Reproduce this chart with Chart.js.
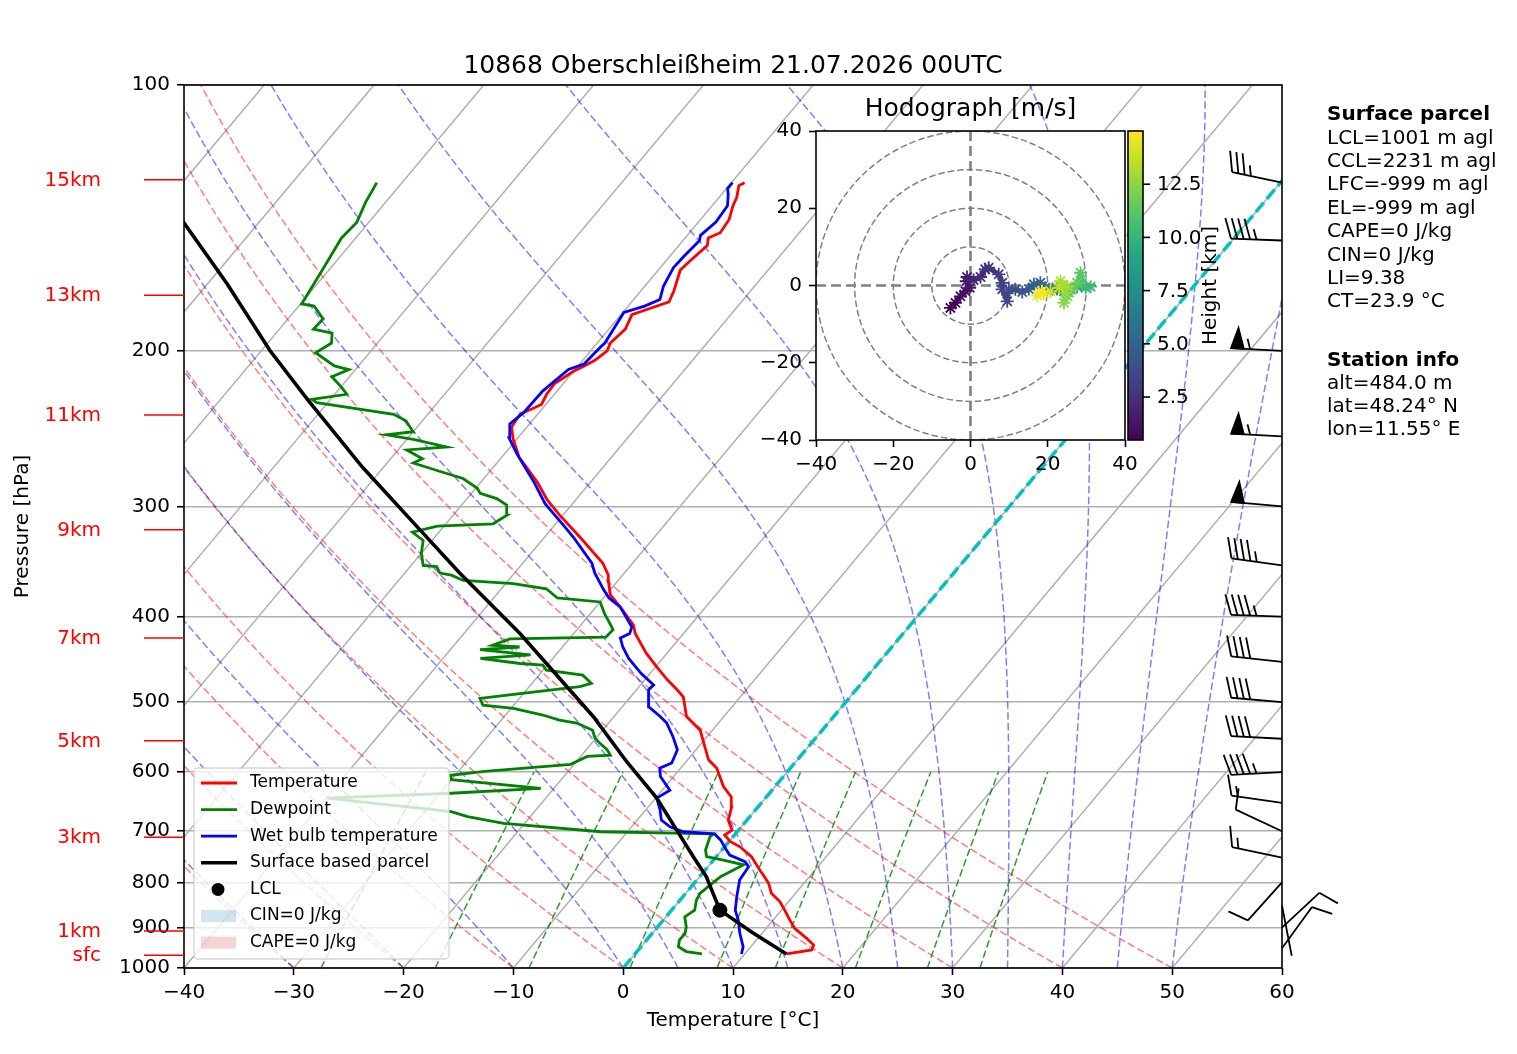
<!DOCTYPE html>
<html>
<head>
<meta charset="utf-8">
<title>10868 Oberschleißheim 21.07.2026 00UTC</title>
<script src="https://cdn.jsdelivr.net/npm/chart.js@4.4.1/dist/chart.umd.min.js"></script>
<style>
  html, body { margin: 0; padding: 0; background: #fff; }
  #wrap { position: relative; width: 1517px; height: 1054px; }
  #wrap canvas { position: absolute; left: 0; top: 0; }
</style>
</head>
<body>
<div id="wrap">
  <canvas id="skewt" width="1517" height="1054"></canvas>
  <canvas id="hodo" width="1517" height="1054"></canvas>
</div>
<script>
// sounding values (pressure hPa, temperature degC)
const tempPres = [964, 954, 942, 925, 902, 882, 860, 841, 823, 802, 785, 775, 748, 729, 719, 707, 698, 680, 657, 640, 623, 594, 581, 562, 538, 519, 493, 484, 472, 456, 440, 418, 409, 390, 378, 365, 359, 348, 325, 307, 295, 282, 264, 252, 244, 236, 230, 224, 218, 211, 208, 205, 200, 196, 189, 182, 179, 176, 171, 162, 158, 152, 149, 147, 142, 137, 134, 130, 129];
const tempVals = [13.8, 15.8, 15.6, 14.4, 12.6, 11.5, 10.3, 9.2, 7.8, 6.8, 5.7, 5.0, 3.2, 1.4, 0.1, -0.9, -0.6, -1.7, -2.4, -3.2, -4.7, -6.7, -8.1, -9.4, -11.1, -13.4, -15.2, -16.3, -17.9, -19.9, -21.9, -24.4, -25.2, -27.8, -29.6, -30.8, -31.3, -32.7, -36.8, -40.3, -42.6, -44.8, -48.4, -50.3, -51.4, -51.6, -50.4, -50.7, -50.8, -50.0, -49.4, -48.9, -48.5, -48.8, -48.5, -49.0, -47.8, -46.6, -47.0, -48.0, -47.8, -47.4, -47.9, -47.2, -47.4, -48.1, -48.4, -49.1, -48.8];

const dewPres = [964, 958, 946, 930, 914, 898, 875, 860, 838, 823, 805, 788, 778, 764, 755, 748, 735, 710, 705, 701, 686, 674, 665, 642, 634, 626, 612, 605, 599, 588, 576, 574, 566, 557, 549, 538, 528, 524, 517, 508, 504, 495, 489, 480, 476, 466, 460, 454, 452, 446, 442, 440, 436, 433, 431, 424, 422, 414, 407, 397, 385, 381, 372, 367, 364, 359, 357, 351, 350, 339, 328, 321, 316, 314, 307, 299, 294, 290, 286, 279, 274, 268, 265, 259, 257, 252, 249, 247, 240, 236, 229, 227, 224, 220, 214, 210, 208, 201, 196, 191, 189, 184, 178, 177, 162, 149, 143, 136, 129];
const dewVals = [6.1, 4.5, 3.4, 3.0, 3.0, 2.6, 1.7, 2.1, 1.5, 1.3, 1.6, 1.9, 2.4, 3.1, 0.9, -0.9, -1.5, -2.1, -2.0, -12.4, -21.9, -25.7, -27.6, -39.9, -29.0, -21.2, -30.0, -30.4, -27.6, -20.3, -19.4, -17.4, -18.1, -19.2, -20.1, -20.9, -22.9, -24.7, -26.6, -29.8, -32.8, -33.6, -30.3, -25.4, -24.6, -26.0, -29.7, -30.4, -32.6, -36.6, -32.3, -34.0, -37.3, -33.9, -36.5, -35.4, -26.8, -26.7, -27.5, -28.7, -30.0, -34.2, -35.9, -39.3, -44.1, -45.6, -46.8, -47.6, -48.9, -50.0, -50.8, -52.4, -50.6, -45.7, -45.1, -45.9, -47.3, -49.2, -49.9, -51.9, -54.5, -57.6, -57.1, -59.2, -55.8, -59.4, -62.2, -60.0, -61.5, -63.1, -71.0, -71.7, -68.9, -69.9, -71.6, -70.6, -72.2, -74.9, -74.2, -74.9, -76.9, -76.8, -78.6, -79.9, -80.6, -81.3, -81.1, -81.8, -82.3];

const wetPres = [964, 946, 914, 882, 860, 830, 795, 768, 758, 745, 735, 716, 705, 701, 692, 680, 662, 642, 629, 607, 594, 586, 566, 547, 528, 519, 506, 484, 478, 464, 446, 433, 423, 418, 411, 390, 381, 373, 357, 348, 325, 314, 298, 282, 262, 251, 242, 235, 222, 210, 207, 198, 196, 181, 178, 175, 169, 161, 156, 150, 148, 143, 137, 133, 131, 129];
const wetVals = [9.7, 9.3, 8.0, 6.8, 5.8, 4.9, 3.9, 3.7, 3.0, 1.1, 0.4, -0.9, -1.9, -4.9, -6.5, -7.8, -8.7, -9.9, -9.3, -11.2, -11.9, -11.2, -11.7, -13.1, -14.7, -15.8, -17.6, -18.9, -18.8, -20.8, -23.1, -24.5, -25.4, -24.9, -25.2, -27.8, -29.5, -30.6, -32.7, -33.7, -37.4, -39.4, -42.5, -45.1, -48.8, -50.8, -51.8, -51.4, -51.3, -50.6, -49.6, -49.4, -49.3, -49.9, -48.5, -47.6, -48.3, -48.8, -48.7, -48.5, -48.8, -48.4, -48.6, -49.4, -49.9, -49.9];

const parcelPres = [964, 912, 860, 788, 748, 704, 642, 584, 519, 418, 357, 319, 271, 227, 200, 168, 143, 129];
const parcelVals = [13.8, 9.1, 4.4, 0.6, -2.1, -5.2, -9.9, -15.4, -21.9, -34.9, -45.0, -51.9, -61.9, -72.1, -79.2, -88.2, -96.9, -102.0];
const lclPres = 860;
const lclTemp = 4.4;

// wind barbs (knots, direction the wind blows from)
const barbPres = [129, 150, 200, 250, 300, 350, 400, 450, 500, 550, 600, 650, 700, 750, 800, 850, 900, 950];
const barbSpeed = [35, 45, 55, 55, 50, 45, 45, 40, 40, 40, 45, 15, 10, 15, 10, 2, 10, 10];
const barbDir = [282, 272, 273, 273, 275, 278, 272, 276, 275, 273, 267, 278, 295, 282, 222, 169, 47, 36];

// hodograph (m/s) coloured by height (km)
const hodoU = [-5.2, -3.9, -2.6, -1.3, -0.2, -1.1, -0.9, 0.8, 2.6, 3.8, 4.7, 7.3, 8.2, 8.2, 9.5, 9.9, 11.6, 13.4, 15.1, 16.4, 18.1, 19.4, 21.2, 22.4, 24.2, 25.9, 27.6, 29.8, 31.1, 28.9, 28.5, 27.6, 26.3, 25.1, 24.2, 24.6, 25.1, 23.3, 22.9, 20.7, 19.0, 17.3, 18.5];
const hodoV = [-5.8, -4.5, -2.8, -1.5, -0.6, 1.1, 2.2, 1.4, 2.2, 4.2, 4.6, 2.9, 0.7, -1.0, -4.1, -1.0, -1.0, -1.7, -0.9, 0.3, 0.7, -0.6, -0.9, -0.9, -1.5, -1.0, -0.3, -0.6, -0.3, 0.7, 3.3, 0.7, -1.0, -2.8, -4.5, -1.9, -0.2, 1.1, -0.6, -1.5, -2.1, -2.6, -1.5];
const hodoH = [0.5, 0.7, 0.9, 1.1, 1.3, 1.5, 1.7, 1.9, 2.2, 2.5, 2.7, 3.0, 3.2, 3.4, 3.6, 3.8, 4.0, 4.3, 4.6, 4.9, 5.2, 5.6, 6.2, 7.0, 7.8, 8.5, 9.2, 10.0, 10.4, 10.8, 11.2, 11.5, 11.8, 12.1, 12.4, 12.7, 12.9, 13.2, 13.5, 13.8, 14.2, 14.6, 15.0];
const heightMin = 0.48;
const heightMax = 15.0;
const heightTicks = [2.5, 5.0, 7.5, 10.0, 12.5];
const hodoTicks = [-40, -20, 0, 20, 40];
const hodoRings = [10, 20, 30, 40];

// axes
const xTicks = [-40, -30, -20, -10, 0, 10, 20, 30, 40, 50, 60];
const yTicks = [100, 200, 300, 400, 500, 600, 700, 800, 900, 1000];
const kmLabels = ['15km', '13km', '11km', '9km', '7km', '5km', '3km', '1km', 'sfc'];
const kmPres = [128, 173, 236.5, 319, 423, 553, 711, 908, 967];

// background lines of the diagram
const isothermT = [-110, -100, -90, -80, -70, -60, -50, -40, -30, -20, -10, 0, 10, 20, 30, 40, 50, 60];
const dryT0 = [-40, -30, -20, -10, 0, 10, 20, 30, 40, 50];
const moistT0 = [-40, -30, -20, -10, 0, 5, 10, 15, 20, 25, 30, 35, 40, 45, 50];
const mixRatios = [0.4, 1, 2, 4, 7, 10, 16, 24, 32];   // g/kg

const parcelInfo = ['LCL=1001 m agl', 'CCL=2231 m agl', 'LFC=-999 m agl', 'EL=-999 m agl', 'CAPE=0 J/kg', 'CIN=0 J/kg', 'LI=9.38', 'CT=23.9 °C'];
const stationInfo = ['alt=484.0 m', 'lat=48.24° N', 'lon=11.55° E'];
const legendLabels = ['Temperature', 'Dewpoint', 'Wet bulb temperature', 'Surface based parcel', 'LCL', 'CIN=0 J/kg', 'CAPE=0 J/kg'];

const FONT = "'DejaVu Sans', 'Liberation Sans', sans-serif";
const SKEW = 67.3;   // degC of horizontal shift per decade of pressure

function skewX(t, p) {
    return t + SKEW * Math.log10(1000 / p);
}
function toXY(pres, vals) {
    return pres.map((p, i) => ({ x: skewX(vals[i], p), y: p }));
}
function fmtTick(v) {
    return v < 0 ? '\u2212' + Math.abs(v) : String(v);
}

// thermodynamics for the dry / moist adiabats and mixing lines
const Rd = 287.04749, Cpd = 1004.6662, Lv = 2.50084e6, EPS = 0.6219569;
function satMix(p, tK) {
    const es = 6.112 * Math.exp(17.67 * (tK - 273.15) / (tK - 29.65));
    return EPS * es / (p - es);
}
function moistSlope(p, t) {
    const rs = satMix(p, t);
    return (Rd * t + Lv * rs) / (Cpd + Lv * Lv * rs * EPS / (Rd * t * t)) / p;
}
function moistAdiabat(t0) {
    let t = t0 + 273.15, p = 1000;
    const pts = [{ x: skewX(t0, p), y: p }];
    const h = -5;
    while (p > 100.1) {
        const k1 = moistSlope(p, t);
        const k2 = moistSlope(p + h / 2, t + h / 2 * k1);
        const k3 = moistSlope(p + h / 2, t + h / 2 * k2);
        const k4 = moistSlope(p + h, t + h * k3);
        t += h / 6 * (k1 + 2 * k2 + 2 * k3 + k4);
        p += h;
        pts.push({ x: skewX(t - 273.15, p), y: p });
    }
    return pts;
}
function dryAdiabat(t0) {
    const pts = [];
    for (let p = 1000; p >= 100; p -= 10) {
        const t = (t0 + 273.15) * Math.pow(p / 1000, Rd / Cpd) - 273.15;
        pts.push({ x: skewX(t, p), y: p });
    }
    return pts;
}
function mixingLine(w) {
    const pts = [];
    for (let p = 1000; p >= 600; p -= 10) {
        const e = p * (w / 1000) / (EPS + w / 1000);
        const l = Math.log(e / 6.112);
        const td = 243.5 * l / (17.67 - l);
        pts.push({ x: skewX(td, p), y: p });
    }
    return pts;
}

const viridisStops = [[68, 1, 84], [72, 36, 117], [65, 68, 135], [53, 95, 141], [42, 120, 142], [33, 145, 140], [34, 168, 132], [68, 191, 112], [122, 209, 81], [189, 223, 38], [253, 231, 37]];
function viridis(f) {
    f = Math.min(1, Math.max(0, f));
    const s = f * 10, i = Math.min(9, Math.floor(s)), r = s - i;
    const a = viridisStops[i], b = viridisStops[i + 1];
    return 'rgb(' + a.map((c, k) => Math.round(c + (b[k] - c) * r)).join(',') + ')';
}
function heightColor(h) {
    return viridis((h - heightMin) / (heightMax - heightMin));
}

function line(data, color, width, dash) {
    return { data: data, borderColor: color, borderWidth: width, borderDash: dash || [], showLine: true, pointRadius: 0, fill: false, tension: 0 };
}

// datasets: index 0 is drawn on top
let datasets = [];
datasets.push({ data: [{ x: skewX(lclTemp, lclPres), y: lclPres }], showLine: false, pointRadius: 7, pointBackgroundColor: '#000', pointBorderColor: '#000' });
datasets.push(line(toXY(parcelPres, parcelVals), '#000000', 3.6));
datasets.push(line(toXY(wetPres, wetVals), '#0000ff', 2.8));
datasets.push(line(toXY(dewPres, dewVals), '#008000', 2.8));
datasets.push(line(toXY(tempPres, tempVals), '#ff0000', 2.8));
datasets.push(line([{ x: skewX(0, 1000), y: 1000 }, { x: skewX(0, 100), y: 100 }], '#00bfbf', 3.5, [12, 5]));
mixRatios.forEach(w => datasets.push(line(mixingLine(w), 'rgba(0,128,0,0.8)', 1.5, [7.5, 3.3])));
moistT0.forEach(t => datasets.push(line(moistAdiabat(t), 'rgba(0,0,255,0.5)', 1.5, [7.5, 3.3])));
dryT0.forEach(t => datasets.push(line(dryAdiabat(t), 'rgba(255,0,0,0.5)', 1.5, [7.5, 3.3])));
isothermT.forEach(t => datasets.push(line([{ x: skewX(t, 1000), y: 1000 }, { x: skewX(t, 100), y: 100 }], '#b0b0b0', 1.5)));

function drawBarb(ctx, x0, y0, speed, dir) {
    const L = 51, height = 0.4 * L, width = 0.25 * L, spacing = 0.125 * L;
    const r = dir * Math.PI / 180;
    const dx = Math.sin(r), dy = -Math.cos(r);   // along the staff
    const px = Math.cos(r), py = Math.sin(r);    // side of the feathers
    const pt = (a, b) => [x0 + dx * a + px * b, y0 + dy * a + py * b];
    let total = Math.round(speed / 5) * 5;
    const flags = Math.floor(total / 50);
    total -= flags * 50;
    const full = Math.floor(total / 10);
    total -= full * 10;
    const half = total >= 5;

    ctx.beginPath();
    ctx.moveTo(x0, y0);
    ctx.lineTo(...pt(L, 0));
    ctx.stroke();
    let off = L;
    for (let i = 0; i < flags; i++) {
        if (off !== L) off += spacing / 2;
        ctx.beginPath();
        ctx.moveTo(...pt(off, 0));
        ctx.lineTo(...pt(off - width / 2, height));
        ctx.lineTo(...pt(off - width, 0));
        ctx.closePath();
        ctx.fill();
        ctx.stroke();
        off -= width + spacing;
    }
    for (let i = 0; i < full; i++) {
        ctx.beginPath();
        ctx.moveTo(...pt(off, 0));
        ctx.lineTo(...pt(off + width / 2, height));
        ctx.stroke();
        off -= spacing;
    }
    if (half) {
        if (off === L) off -= 1.5 * spacing;
        ctx.beginPath();
        ctx.moveTo(...pt(off, 0));
        ctx.lineTo(...pt(off + width / 4, height / 2));
        ctx.stroke();
    }
}

const skewDecor = {
    id: 'skewDecor',
    afterDatasetsDraw(chart) {
        const ctx = chart.ctx;
        ctx.save();
        // legend box, lower left
        ctx.beginPath();
        ctx.roundRect(194, 768, 255, 191, 4);
        ctx.fillStyle = 'rgba(255,255,255,0.8)';
        ctx.fill();
        ctx.strokeStyle = 'rgba(204,204,204,0.8)';
        ctx.lineWidth = 1.3;
        ctx.stroke();
        const lineColors = ['#ff0000', '#008000', '#0000ff', '#000000'];
        legendLabels.forEach((txt, i) => {
            const y = 783 + i * 26.6;
            if (i < 4) {
                ctx.beginPath();
                ctx.moveTo(201, y);
                ctx.lineTo(237, y);
                ctx.strokeStyle = lineColors[i];
                ctx.lineWidth = i === 3 ? 3.6 : 2.8;
                ctx.stroke();
            } else if (i === 4) {
                ctx.beginPath();
                ctx.arc(218, y, 6.5, 0, Math.PI * 2);
                ctx.fillStyle = '#000';
                ctx.fill();
            } else {
                ctx.fillStyle = i === 5 ? 'rgba(31,119,180,0.2)' : 'rgba(214,39,40,0.2)';
                ctx.fillRect(201, y - 6, 35, 12);
            }
            ctx.fillStyle = '#000';
            ctx.font = '17px ' + FONT;
            ctx.textAlign = 'left';
            ctx.textBaseline = 'middle';
            ctx.fillText(txt, 250, y);
        });
        ctx.restore();
    },
    afterDraw(chart) {
        const ctx = chart.ctx, a = chart.chartArea, ys = chart.scales.y;
        ctx.save();
        ctx.strokeStyle = '#000';
        ctx.lineWidth = 1.6;
        ctx.strokeRect(a.left, a.top, a.right - a.left, a.bottom - a.top);

        ctx.fillStyle = '#000';
        ctx.textAlign = 'center';
        ctx.textBaseline = 'middle';
        ctx.font = '25px ' + FONT;
        ctx.fillText('10868 Oberschleißheim 21.07.2026 00UTC', (a.left + a.right) / 2, 66);
        ctx.font = '20px ' + FONT;
        ctx.fillText('Temperature [°C]', (a.left + a.right) / 2, 1021);
        ctx.save();
        ctx.translate(23, (a.top + a.bottom) / 2);
        ctx.rotate(-Math.PI / 2);
        ctx.fillText('Pressure [hPa]', 0, 0);
        ctx.restore();

        // height labels
        ctx.textAlign = 'right';
        ctx.fillStyle = '#ff0000';
        ctx.strokeStyle = '#ff0000';
        ctx.lineWidth = 1.5;
        kmLabels.forEach((txt, i) => {
            const y = ys.getPixelForValue(kmPres[i]);
            ctx.fillText(txt, 101, y + 1);
            ctx.beginPath();
            ctx.moveTo(144, y);
            ctx.lineTo(a.left, y);
            ctx.stroke();
        });

        // wind barbs on the right edge
        ctx.strokeStyle = '#000';
        ctx.fillStyle = '#000';
        ctx.lineWidth = 1.8;
        ctx.lineJoin = 'miter';
        barbPres.forEach((p, i) => drawBarb(ctx, a.right, ys.getPixelForValue(p), barbSpeed[i], barbDir[i]));

        // parcel and station text
        ctx.textAlign = 'left';
        ctx.fillStyle = '#000';
        ctx.font = 'bold 20px ' + FONT;
        ctx.fillText('Surface parcel', 1327, 115);
        ctx.font = '20px ' + FONT;
        parcelInfo.forEach((txt, i) => ctx.fillText(txt, 1327, 138.4 + i * 23.4));
        ctx.font = 'bold 20px ' + FONT;
        ctx.fillText('Station info', 1327, 361);
        ctx.font = '20px ' + FONT;
        stationInfo.forEach((txt, i) => ctx.fillText(txt, 1327, 384 + i * 23));
        ctx.restore();
    }
};

new Chart(document.getElementById('skewt'), {
    type: 'scatter',
    data: { datasets: datasets },
    options: {
        responsive: false,
        animation: false,
        events: [],
        layout: { padding: { left: 0, top: 85, right: 235, bottom: 0 } },
        plugins: { legend: { display: false }, tooltip: { enabled: false } },
        scales: {
            x: {
                type: 'linear', min: -40, max: 60,
                afterBuildTicks: s => { s.ticks = xTicks.map(v => ({ value: v })); },
                afterFit: s => { s.height = 86; },
                ticks: { autoSkip: false, maxRotation: 0, padding: 6, color: '#000', font: { family: FONT, size: 20 }, callback: v => fmtTick(v) },
                grid: { drawOnChartArea: false, tickColor: '#000', tickWidth: 1.6, tickLength: 7 },
                border: { display: false }
            },
            y: {
                type: 'logarithmic', reverse: true, min: 100, max: 1000,
                afterBuildTicks: s => { s.ticks = yTicks.map(v => ({ value: v })); },
                afterFit: s => { s.width = 184; },
                ticks: { autoSkip: false, padding: 7, color: '#000', font: { family: FONT, size: 20 }, callback: v => String(v) },
                grid: { color: '#b0b0b0', lineWidth: 1.5, tickColor: '#000', tickWidth: 1.6, tickLength: 7 },
                border: { display: false }
            }
        }
    },
    plugins: [skewDecor]
});

// ---------- hodograph inset ----------
const hodoColors = hodoH.map(heightColor);

const hodoDecor = {
    id: 'hodoDecor',
    beforeDatasetsDraw(chart) {
        const ctx = chart.ctx, a = chart.chartArea, xs = chart.scales.x, ys = chart.scales.y;
        ctx.save();
        ctx.fillStyle = '#fff';
        ctx.fillRect(a.left, a.top, a.right - a.left, a.bottom - a.top);
        ctx.beginPath();
        ctx.rect(a.left, a.top, a.right - a.left, a.bottom - a.top);
        ctx.clip();
        const cx = xs.getPixelForValue(0), cy = ys.getPixelForValue(0);
        ctx.strokeStyle = '#808080';
        ctx.lineWidth = 1.5;
        ctx.setLineDash([6.5, 3]);
        hodoRings.forEach(r => {
            const rp = xs.getPixelForValue(r) - cx;
            ctx.beginPath();
            ctx.arc(cx, cy, rp, 0, Math.PI * 2);
            ctx.stroke();
        });
        ctx.lineWidth = 2.6;
        ctx.setLineDash([10, 5]);
        ctx.beginPath();
        ctx.moveTo(a.left, cy);
        ctx.lineTo(a.right, cy);
        ctx.moveTo(cx, a.top);
        ctx.lineTo(cx, a.bottom);
        ctx.stroke();
        ctx.restore();
    },
    afterDraw(chart) {
        const ctx = chart.ctx, a = chart.chartArea;
        ctx.save();
        ctx.strokeStyle = '#000';
        ctx.lineWidth = 1.6;
        ctx.strokeRect(a.left, a.top, a.right - a.left, a.bottom - a.top);
        ctx.fillStyle = '#000';
        ctx.textAlign = 'center';
        ctx.textBaseline = 'middle';
        ctx.font = '25px ' + FONT;
        ctx.fillText('Hodograph [m/s]', (a.left + a.right) / 2, 109);

        // colour bar for height
        const cbL = 1128, cbR = 1143, cbT = a.top, cbB = a.bottom;
        const g = ctx.createLinearGradient(0, cbB, 0, cbT);
        for (let i = 0; i <= 20; i++) g.addColorStop(i / 20, viridis(i / 20));
        ctx.fillStyle = g;
        ctx.fillRect(cbL, cbT, cbR - cbL, cbB - cbT);
        ctx.strokeRect(cbL, cbT, cbR - cbL, cbB - cbT);
        ctx.fillStyle = '#000';
        ctx.textAlign = 'left';
        ctx.font = '20px ' + FONT;
        heightTicks.forEach(h => {
            const y = cbB - (h - heightMin) / (heightMax - heightMin) * (cbB - cbT);
            ctx.beginPath();
            ctx.moveTo(cbR, y);
            ctx.lineTo(cbR + 7, y);
            ctx.stroke();
            ctx.fillText(h.toFixed(1), cbR + 14, y + 1);
        });
        ctx.save();
        ctx.translate(1211, (cbT + cbB) / 2);
        ctx.rotate(-Math.PI / 2);
        ctx.textAlign = 'center';
        ctx.fillText('Height [km]', 0, 0);
        ctx.restore();
        ctx.restore();
    }
};

function hodoAxis(isX) {
    return {
        type: 'linear', min: -40, max: 40,
        afterBuildTicks: s => { s.ticks = hodoTicks.map(v => ({ value: v })); },
        afterFit: s => { if (isX) s.height = 40; else s.width = 60; },
        ticks: { autoSkip: false, maxRotation: 0, padding: isX ? 6 : 7, color: '#000', font: { family: FONT, size: 20 }, callback: v => fmtTick(v) },
        grid: { drawOnChartArea: false, tickColor: '#000', tickWidth: 1.6, tickLength: 7 },
        border: { display: false }
    };
}

new Chart(document.getElementById('hodo'), {
    type: 'scatter',
    data: {
        datasets: [{
            data: hodoU.map((u, i) => ({ x: u, y: hodoV[i] })),
            showLine: true,
            borderWidth: 5,
            borderColor: hodoColors[0],
            segment: { borderColor: c => hodoColors[c.p0DataIndex] },
            pointStyle: 'star',
            pointRadius: 6.5,
            pointBorderWidth: 1.8,
            pointBorderColor: hodoColors,
            pointBackgroundColor: hodoColors
        }]
    },
    options: {
        responsive: false,
        animation: false,
        events: [],
        layout: { padding: { left: 756, top: 131, right: 392, bottom: 574 } },
        plugins: { legend: { display: false }, tooltip: { enabled: false } },
        scales: { x: hodoAxis(true), y: hodoAxis(false) }
    },
    plugins: [hodoDecor]
});
</script>
</body>
</html>
